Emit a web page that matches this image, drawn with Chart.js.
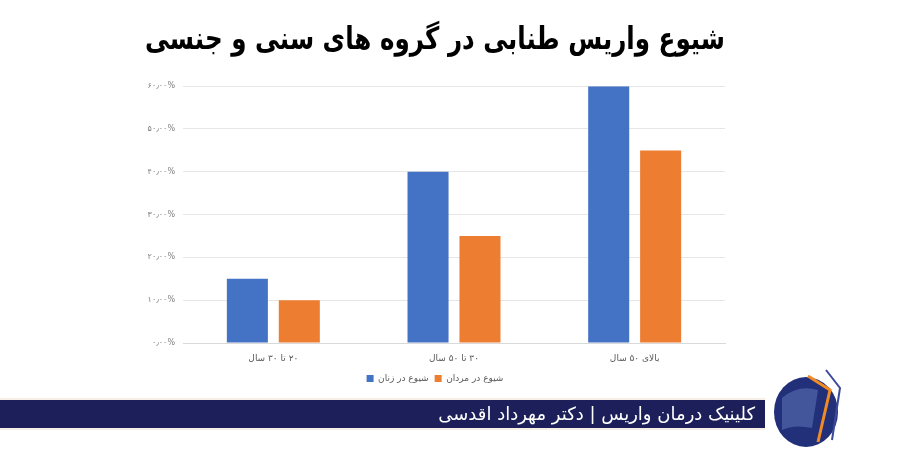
<!DOCTYPE html>
<html lang="fa">
<head>
<meta charset="utf-8">
<script src="https://cdn.jsdelivr.net/npm/chart.js@4.4.1/dist/chart.umd.min.js"></script>
<style>
  html, body { margin: 0; padding: 0; background: #fff; }
  #wrap { position: relative; width: 900px; height: 450px; overflow: hidden; }
  #chart { position: absolute; left: 0; top: 0; }
  .footer {
    position: absolute; left: 0; top: 400px; width: 765px; height: 28px;
    background: #1c1f5a; box-shadow: 0 -2px 0 #f6efe6, 0 2px 0 #f6efe6;
  }
  .footer span {
    position: absolute; right: 10px; top: 0; line-height: 28px;
    color: #fff; font-family: "DejaVu Sans", sans-serif; font-size: 18px;
    direction: rtl; white-space: nowrap;
  }
  .logo { position: absolute; left: 768px; top: 368px; }
</style>
</head>
<body>
<div id="wrap">
  <canvas id="chart" width="900" height="450"></canvas>
  <div class="footer"><span>کلینیک درمان واریس | دکتر مهرداد اقدسی</span></div>
  <svg class="logo" width="85" height="80" viewBox="0 0 85 80">
    <ellipse cx="38" cy="44" rx="32" ry="35" fill="#22307a"/>
    <path d="M14 30 Q30 16 50 22 L44 60 Q26 56 14 62 Z" fill="#5a6fb0" opacity="0.6"/>
    <path d="M40 8 L62 22 L50 74" stroke="#f08a24" stroke-width="3" fill="none"/>
    <path d="M58 2 L72 20 L64 72" stroke="#3b4a9a" stroke-width="2" fill="none"/>
  </svg>
</div>
<script>
const categories = ['۲۰ تا ۳۰ سال', '۳۰ تا ۵۰ سال', 'بالای ۵۰ سال']
const womenValues = [15, 40, 60]
const menValues = [10, 25, 45]
const seriesLabels = ['شیوع در زنان', 'شیوع در مردان']
const titleText = 'شیوع واریس طنابی در گروه های سنی و جنسی'

const faDigits = '۰۱۲۳۴۵۶۷۸۹'
function toFa(str) {
  return String(str).replace(/[0-9]/g, d => faDigits[d])
}
function percentLabel(v) {
  return toFa(v.toFixed(2)).replace('.', '٫') + '%'
}
// keep Persian labels in right-to-left order on an ltr canvas
function rtl(text) {
  return '\u200F' + text + '\u200F'
}

const fontFamily = '"DejaVu Sans", sans-serif'

new Chart(document.getElementById('chart'), {
  type: 'bar',
  data: {
    labels: categories.map(rtl),
    datasets: [
      {
        label: rtl(seriesLabels[0]),
        data: womenValues,
        backgroundColor: '#4472c4',
        categoryPercentage: 0.575,
        barPercentage: 0.79,
      },
      {
        label: rtl(seriesLabels[1]),
        data: menValues,
        backgroundColor: '#ed7d31',
        categoryPercentage: 0.575,
        barPercentage: 0.79,
      },
    ],
  },
  options: {
    responsive: false,
    animation: false,
    layout: { padding: { left: 145, right: 175, top: 0, bottom: 57 } },
    plugins: {
      title: {
        display: true,
        text: rtl(titleText),
        color: '#000',
        font: { family: fontFamily, size: 31, weight: 'bold' },
        padding: { top: 22, bottom: 27 },
      },
      legend: {
        position: 'bottom',
        labels: {
          boxWidth: 7,
          boxHeight: 7,
          padding: 6,
          color: '#595959',
          font: { family: fontFamily, size: 9 },
        },
      },
      tooltip: { enabled: false },
    },
    scales: {
      x: {
        grid: { display: false },
        border: { color: '#d9d9d9' },
        ticks: { color: '#595959', font: { family: fontFamily, size: 9 }, padding: 2 },
        afterFit: scale => { scale.height = 25 },
      },
      y: {
        min: 0,
        max: 60,
        grid: { color: '#e6e6e6', drawTicks: false },
        border: { display: false },
        ticks: {
          stepSize: 10,
          padding: 8,
          color: '#7f7f7f',
          font: { family: fontFamily, size: 8 },
          callback: v => percentLabel(v),
        },
        afterFit: scale => { scale.width = 38 },
      },
    },
  },
})
</script>
</body>
</html>
